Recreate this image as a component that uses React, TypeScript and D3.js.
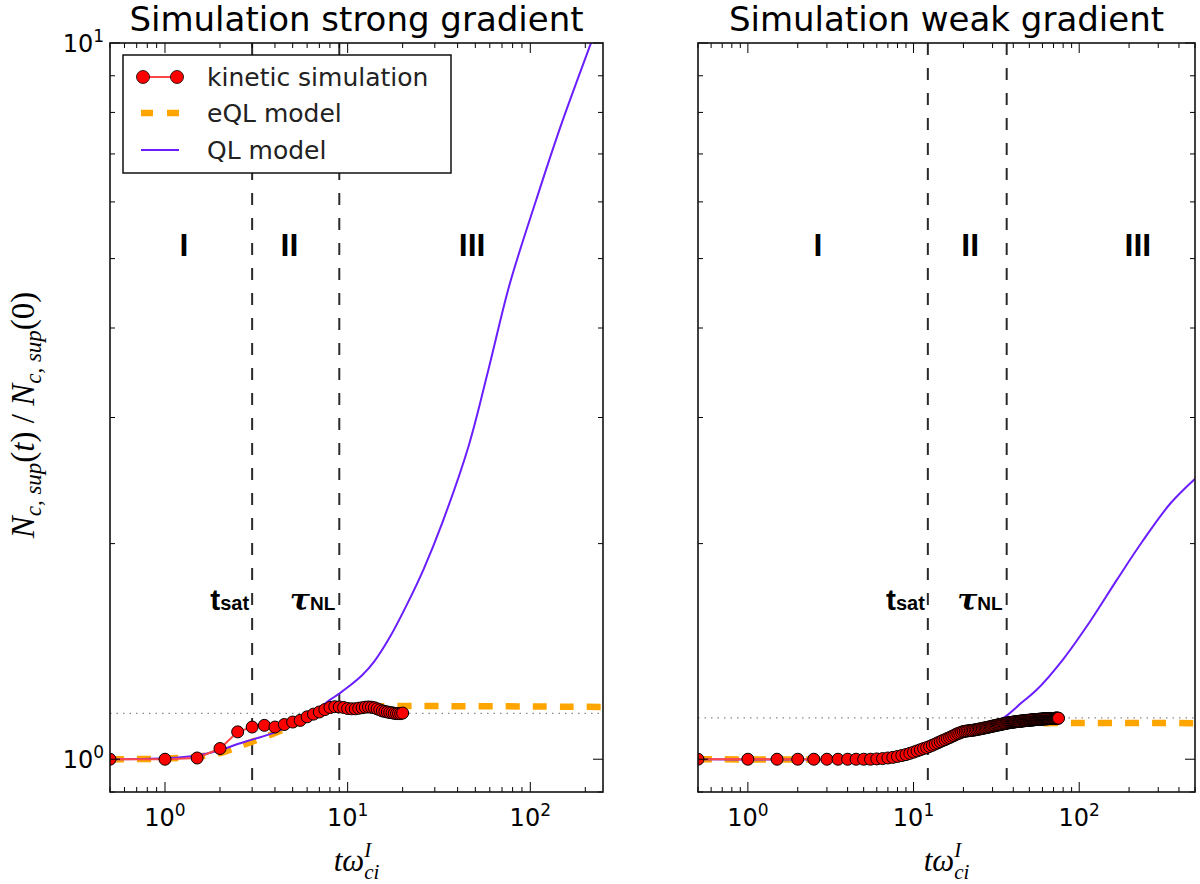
import React from 'react';
import * as d3 from 'd3';

// kinetic simulation, strong gradient
const strongT = [0.5, 1, 1.5, 2, 2.5, 3, 3.5, 4, 4.5, 5, 5.5, 6, 6.5, 7, 7.5, 8, 8.5, 9, 9.5, 10,
  10.5, 11, 11.5, 12, 12.5, 13, 13.5, 14, 14.5, 15, 15.5, 16, 16.5, 17, 17.5, 18, 18.5, 19, 19.5, 20];
const strongSim = [1.000, 1.000, 1.004, 1.035, 1.092, 1.109, 1.115, 1.109, 1.118, 1.127,
  1.133, 1.146, 1.156, 1.164, 1.173, 1.181, 1.184, 1.183, 1.181, 1.177,
  1.176, 1.176, 1.178, 1.180, 1.182, 1.183, 1.182, 1.180, 1.176, 1.172,
  1.168, 1.166, 1.164, 1.162, 1.161, 1.159, 1.158, 1.158, 1.158, 1.160];

// eQL and QL models, strong gradient
const strongEqlT = [0.5, 1, 1.5, 2, 2.5, 3, 4, 5, 6, 7, 8, 9, 250];
const strongEql = [1.0, 1.002, 1.008, 1.02, 1.04, 1.058, 1.088, 1.115, 1.14, 1.162, 1.178, 1.183, 1.183];
const strongQlT = [0.5, 1, 1.5, 2, 2.5, 3, 4, 5, 6, 7, 8, 9, 10, 12, 14, 17, 21, 26, 33, 46, 59, 77, 108, 146, 214, 260];
const strongQl = [1.0, 1.003, 1.012, 1.03, 1.05, 1.065, 1.09, 1.12, 1.15, 1.18, 1.21, 1.235, 1.26, 1.31, 1.37,
  1.48, 1.64, 1.84, 2.14, 2.74, 3.50, 4.60, 6.05, 7.63, 9.97, 11.4];

// kinetic simulation, weak gradient
const weakT = [0.5, 1, 1.5, 2, 2.5, 3, 3.5, 4, 4.5, 5, 5.5, 6, 6.5, 7, 7.5, 8, 8.5, 9, 9.5, 10,
  10.5, 11, 11.5, 12, 12.5, 13, 13.5, 14, 14.5, 15, 15.5, 16, 16.5, 17, 17.5, 18, 18.5, 19, 19.5, 20,
  20.5, 21, 21.5, 22, 22.5, 23, 23.5, 24, 24.5, 25, 25.5, 26, 26.5, 27, 27.5, 28, 28.5, 29, 29.5, 30,
  30.5, 31, 31.5, 32, 32.5, 33, 33.5, 34, 34.5, 35, 35.5, 36, 36.5, 37, 37.5, 38, 38.5, 39, 39.5, 40,
  40.5, 41, 41.5, 42, 42.5, 43, 43.5, 44, 44.5, 45, 45.5, 46, 46.5, 47, 47.5, 48, 48.5, 49, 49.5, 50,
  50.5, 51, 51.5, 52, 52.5, 53, 53.5, 54, 54.5, 55, 55.5, 56, 56.5, 57, 57.5, 58, 58.5, 59, 59.5, 60,
  60.5, 61, 61.5, 62, 62.5, 63, 63.5, 64, 64.5, 65, 65.5, 66, 66.5, 67, 67.5, 68, 68.5, 69, 69.5, 70,
  70.5, 71, 71.5, 72, 72.5, 73, 73.5, 74, 74.5, 75];
const weakSim = [1.000, 1.000, 1.000, 1.000, 1.000, 1.000, 1.000, 1.000, 1.000, 1.000,
  1.000, 1.001, 1.002, 1.004, 1.006, 1.009, 1.012, 1.015, 1.019, 1.023,
  1.027, 1.031, 1.035, 1.038, 1.042, 1.046, 1.050, 1.054, 1.058, 1.062,
  1.065, 1.069, 1.072, 1.076, 1.079, 1.083, 1.086, 1.088, 1.091, 1.093,
  1.094, 1.095, 1.096, 1.097, 1.097, 1.098, 1.099, 1.100, 1.101, 1.102,
  1.103, 1.104, 1.105, 1.106, 1.107, 1.108, 1.109, 1.110, 1.111, 1.112,
  1.113, 1.114, 1.115, 1.116, 1.117, 1.117, 1.118, 1.119, 1.120, 1.121,
  1.121, 1.122, 1.123, 1.124, 1.124, 1.125, 1.125, 1.126, 1.126, 1.127,
  1.127, 1.128, 1.128, 1.129, 1.129, 1.129, 1.130, 1.130, 1.130, 1.131,
  1.131, 1.131, 1.132, 1.132, 1.132, 1.133, 1.133, 1.133, 1.133, 1.134,
  1.134, 1.134, 1.134, 1.135, 1.135, 1.135, 1.135, 1.136, 1.136, 1.136,
  1.136, 1.136, 1.137, 1.137, 1.137, 1.137, 1.137, 1.138, 1.138, 1.138,
  1.138, 1.138, 1.138, 1.139, 1.139, 1.139, 1.139, 1.139, 1.139, 1.139,
  1.140, 1.140, 1.140, 1.140, 1.140, 1.140, 1.140, 1.140, 1.140, 1.140,
  1.140, 1.140, 1.141, 1.141, 1.141, 1.141, 1.141, 1.141, 1.141, 1.141];

// eQL and QL models, weak gradient
const weakEqlT = [0.5, 5, 7, 8, 10, 12, 15, 20, 25, 30, 40, 60, 500];
const weakEql = [1.0, 1.0, 1.004, 1.01, 1.025, 1.04, 1.06, 1.085, 1.1, 1.11, 1.12, 1.123, 1.123];
const weakQlT = [0.5, 5, 8, 10, 12, 15, 20, 25, 30, 36, 45, 55, 80, 116, 168, 241, 357, 510];
const weakQl = [1.0, 1.001, 1.008, 1.02, 1.037, 1.06, 1.09, 1.105, 1.12, 1.148, 1.2, 1.248, 1.379, 1.556,
  1.777, 2.015, 2.279, 2.474];

// annotations
const strongRef = 1.159;
const weakRef = 1.142;
const strongMarks = [3.0, 9.0];
const weakMarks = [12.2, 36.5];
const strongRegimeX = [1.27, 4.8, 48];
const weakRegimeX = [2.65, 22, 226];
const regimeNames = ['I', 'II', 'III'];
const regimeY = 5.04;
const markLabelY = 1.615;

const yScale = d3.scaleLog().domain([0.9, 10]).range([792, 43]);

const RED_LINE = '#ff4747';
const QL_COLOR = '#6a1eff';
const ORANGE = '#ffa500';

function isMajor(v) {
  const l = Math.log10(v);
  return Math.abs(l - Math.round(l)) < 1e-9;
}

function Pow10({ x, y, exp, anchor }) {
  return (
    <text x={x} y={y} textAnchor={anchor} fontFamily="DejaVu Sans" fontSize={24} fill="#000">
      10<tspan fontSize={17} dy={-10}>{exp}</tspan>
    </text>
  );
}

function Panel({ id, title, xDomain, xRange, simT, simV, eqlT, eqlV, qlT, qlV, refLevel, marks, regimeX, showY, showLegend }) {
  const x = d3.scaleLog().domain(xDomain).range(xRange);
  const y = yScale;
  const [x0, x1] = xRange;
  const [y1, y0] = y.range();

  const smooth = d3.line().curve(d3.curveCatmullRom.alpha(0.5));
  const sim = simT.map((t, i) => [x(t), y(simV[i])]);
  const eql = eqlT.map((t, i) => [x(t), y(eqlV[i])]);
  const ql = qlT.map((t, i) => [x(t), y(qlV[i])]);

  const xTicks = x.ticks();
  const yTicks = y.ticks();

  return (
    <g>
      <defs>
        <clipPath id={`clip-${id}`}>
          <rect x={x0} y={y0} width={x1 - x0} height={y1 - y0} />
        </clipPath>
      </defs>
      <text x={(x0 + x1) / 2} y={31} textAnchor="middle" fontFamily="DejaVu Sans" fontSize={34} fill="#000">{title}</text>

      <g clipPath={`url(#clip-${id})`}>
        <line x1={x0} x2={x1} y1={y(refLevel)} y2={y(refLevel)} stroke="#888" strokeWidth={1.2} strokeDasharray="1.5,5" />
        {marks.map((m) => (
          <line key={m} x1={x(m)} x2={x(m)} y1={y0} y2={y1} stroke="#2a2a2a" strokeWidth={2} strokeDasharray="12,13" />
        ))}
        <path d={smooth(eql)} fill="none" stroke={ORANGE} strokeWidth={6.5} strokeDasharray="14,13" />
        <path d={smooth(ql)} fill="none" stroke={QL_COLOR} strokeWidth={2} />
        <path d={d3.line()(sim)} fill="none" stroke={RED_LINE} strokeWidth={2} />
        {sim.map(([px, py], i) => (
          <circle key={i} cx={px} cy={py} r={6} fill="#ff0000" stroke="#000" strokeWidth={1} />
        ))}
      </g>

      {regimeX.map((rx, i) => (
        <text key={i} x={x(rx)} y={y(regimeY)} textAnchor="middle" fontFamily="Liberation Sans" fontWeight="bold" fontSize={32} fill="#000">{regimeNames[i]}</text>
      ))}
      <text x={x(marks[0]) - 3} y={y(markLabelY)} textAnchor="end" fontFamily="Liberation Sans" fontWeight="bold" fill="#000">
        <tspan fontSize={30}>t</tspan><tspan fontSize={20}>sat</tspan>
      </text>
      <text x={x(marks[1]) - 4} y={y(markLabelY)} textAnchor="end" fontFamily="Liberation Sans" fontWeight="bold" fill="#000">
        <tspan fontSize={30} fontStyle="italic" fontFamily="DejaVu Serif">τ</tspan><tspan fontSize={19}>NL</tspan>
      </text>

      {/* ticks */}
      {xTicks.map((t, i) => {
        const len = isMajor(t) ? 10 : 5;
        const px = x(t);
        return (
          <g key={`xt${i}`} stroke="#000" strokeWidth={1}>
            <line x1={px} x2={px} y1={y1} y2={y1 - len} />
            <line x1={px} x2={px} y1={y0} y2={y0 + len} />
          </g>
        );
      })}
      {yTicks.map((t, i) => {
        const len = isMajor(t) ? 10 : 5;
        const py = y(t);
        return (
          <g key={`yt${i}`} stroke="#000" strokeWidth={1}>
            <line x1={x0} x2={x0 + len} y1={py} y2={py} />
            <line x1={x1} x2={x1 - len} y1={py} y2={py} />
          </g>
        );
      })}
      {xTicks.filter(isMajor).map((t) => (
        <Pow10 key={`xl${t}`} x={x(t)} y={826} exp={Math.round(Math.log10(t))} anchor="middle" />
      ))}
      {showY && yTicks.filter(isMajor).map((t) => (
        <Pow10 key={`yl${t}`} x={x0 - 6} y={y(t) + 9} exp={Math.round(Math.log10(t))} anchor="end" />
      ))}

      <rect x={x0} y={y0} width={x1 - x0} height={y1 - y0} fill="none" stroke="#111" strokeWidth={1.6} />

      <text x={(x0 + x1) / 2} y={871} textAnchor="middle" fontFamily="Liberation Serif" fontStyle="italic" fontSize={31} fill="#000">
        tω<tspan fontSize={21} dy={-14}>I</tspan><tspan fontSize={21} dx={-7} dy={22}>ci</tspan>
      </text>

      {showLegend && (
        <g>
          <rect x={123} y={55} width={328} height={118} fill="#fff" stroke="#111" strokeWidth={1.5} />
          <line x1={143} x2={177} y1={77} y2={77} stroke={RED_LINE} strokeWidth={2} />
          <circle cx={143} cy={77} r={6.5} fill="#ff0000" stroke="#000" strokeWidth={0.8} />
          <circle cx={177} cy={77} r={6.5} fill="#ff0000" stroke="#000" strokeWidth={0.8} />
          <line x1={141} x2={179} y1={113} y2={113} stroke={ORANGE} strokeWidth={6.5} strokeDasharray="12,14" />
          <line x1={141} x2={179} y1={150} y2={150} stroke={QL_COLOR} strokeWidth={2} />
          <text x={207} y={86} fontFamily="DejaVu Sans" fontSize={25} fill="#222">kinetic simulation</text>
          <text x={207} y={122} fontFamily="DejaVu Sans" fontSize={25} fill="#222">eQL model</text>
          <text x={207} y={159} fontFamily="DejaVu Sans" fontSize={25} fill="#222">QL model</text>
        </g>
      )}
    </g>
  );
}

export default function App() {
  return (
    <svg width={1200} height={884} style={{ position: 'absolute', left: 0, top: 0, background: '#fff' }}>
      <rect width={1200} height={884} fill="#fff" />
      <Panel id="strong" title="Simulation strong gradient" xDomain={[0.5, 250]} xRange={[110, 603]}
        simT={strongT} simV={strongSim} eqlT={strongEqlT} eqlV={strongEql} qlT={strongQlT} qlV={strongQl}
        refLevel={strongRef} marks={strongMarks} regimeX={strongRegimeX} showY showLegend />
      <Panel id="weak" title="Simulation weak gradient" xDomain={[0.5, 500]} xRange={[698, 1195]}
        simT={weakT} simV={weakSim} eqlT={weakEqlT} eqlV={weakEql} qlT={weakQlT} qlV={weakQl}
        refLevel={weakRef} marks={weakMarks} regimeX={weakRegimeX} showY={false} showLegend={false} />
      <text transform="translate(34,415) rotate(-90)" textAnchor="middle" fontFamily="Liberation Serif" fontSize={33} fill="#000">
        <tspan fontStyle="italic">N</tspan><tspan fontStyle="italic" fontSize={23} dy={7}>c, sup</tspan>
        <tspan dy={-7}>(</tspan><tspan fontStyle="italic">t</tspan><tspan>) / </tspan>
        <tspan fontStyle="italic">N</tspan><tspan fontStyle="italic" fontSize={23} dy={7}>c, sup</tspan>
        <tspan dy={-7}>(0)</tspan>
      </text>
    </svg>
  );
}
